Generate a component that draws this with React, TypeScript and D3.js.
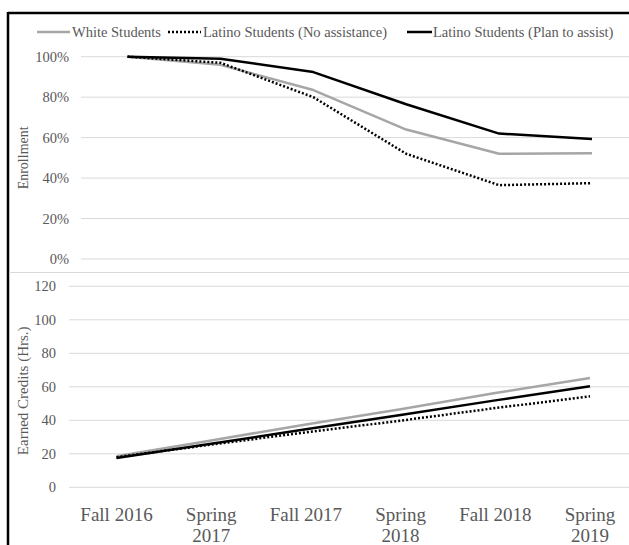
import React from "react";
import * as d3 from "d3";

// semesters on the x axis
const periods = ["Fall 2016", "Spring 2017", "Fall 2017", "Spring 2018", "Fall 2018", "Spring 2019"];
const seriesNames = ["White Students", "Latino Students (No assistance)", "Latino Students (Plan to assist)"];

// enrollment share (%)
const enrollWhite = [100, 96, 83.5, 64, 52, 52.3];
const enrollLatinoNo = [100, 97, 80, 52, 36.5, 37.5];
const enrollLatinoPlan = [100, 99, 92.4, 76.5, 62, 59.3];

// earned credit hours
const creditsWhite = [18.5, 28, 37.5, 46.6, 56.3, 65.3];
const creditsLatinoNo = [18, 25.5, 32.8, 39.8, 47.3, 54.3];
const creditsLatinoPlan = [17.5, 26, 34.6, 43.2, 51.9, 60.3];

const enrollTicks = [0, 20, 40, 60, 80, 100];
const creditTicks = [0, 20, 40, 60, 80, 100, 120];

const W = 629;
const H = 545;
const FONT = "'Liberation Serif', 'Times New Roman', serif";
const TXT = "#595959";
const GRID = "#d9d9d9";

const styles = [
  { color: "#a6a6a6", dash: undefined as string | undefined },
  { color: "#000", dash: "2,2" },
  { color: "#000", dash: undefined as string | undefined },
];

export default function App() {
  // top panel
  const xTop = d3.scalePoint<string>().domain(periods).range([127.5, 592]);
  const yTop = d3.scaleLinear().domain([0, 100]).range([259, 56.7]);
  // bottom panel
  const xBot = d3.scalePoint<string>().domain(periods).range([116.5, 590]);
  const yBot = d3.scaleLinear().domain([0, 120]).range([487.3, 286.3]);

  const topLine = d3.line<number>().x((_, i) => xTop(periods[i])!).y(d => yTop(d));
  const botLine = d3.line<number>().x((_, i) => xBot(periods[i])!).y(d => yBot(d));

  const enroll = [enrollWhite, enrollLatinoNo, enrollLatinoPlan];
  const credits = [creditsWhite, creditsLatinoNo, creditsLatinoPlan];

  // legend swatch/text positions
  const legendX = [37, 168, 407];
  const legendY = 32;

  return (
    <svg width={W} height={H} style={{ position: "absolute", left: 0, top: 0, background: "#fff", fontFamily: FONT }}>
      <rect x={0} y={0} width={W} height={H} fill="#fff" />

      {/* frame */}
      <line x1={8} x2={W} y1={13} y2={13} stroke="#000" strokeWidth={2.5} />
      <line x1={8} x2={8} y1={12} y2={H} stroke="#000" strokeWidth={2.5} />

      {/* legend */}
      {seriesNames.map((name, i) => (
        <g key={name}>
          <line x1={legendX[i]} x2={legendX[i] + (i === 2 ? 25 : 33)} y1={legendY} y2={legendY}
            stroke={styles[i].color} strokeWidth={2.5} strokeDasharray={styles[i].dash} />
          <text x={legendX[i] + (i === 2 ? 26 : 35)} y={legendY} dy="0.35em" fontSize={14.5} fill={TXT}>{name}</text>
        </g>
      ))}

      {/* enrollment grid */}
      {enrollTicks.map(t => (
        <g key={"e" + t}>
          <line x1={81} x2={W} y1={yTop(t)} y2={yTop(t)} stroke={GRID} strokeWidth={1} />
          <text x={69} y={yTop(t)} dy="0.35em" textAnchor="end" fontSize={14.5} fill={TXT}>{t}%</text>
        </g>
      ))}
      <text transform={`translate(23,${(yTop(0) + yTop(100)) / 2}) rotate(-90)`} textAnchor="middle" dy="0.35em" fontSize={14} fill={TXT}>Enrollment</text>

      {/* divider */}
      <line x1={9} x2={W} y1={272.5} y2={272.5} stroke={GRID} strokeWidth={1} />

      {/* credits grid */}
      {creditTicks.map(t => (
        <g key={"c" + t}>
          <line x1={69} x2={W} y1={yBot(t)} y2={yBot(t)} stroke={GRID} strokeWidth={1} />
          <text x={56} y={yBot(t)} dy="0.35em" textAnchor="end" fontSize={14.5} fill={TXT}>{t}</text>
        </g>
      ))}
      <text transform={`translate(23,${(yBot(0) + yBot(120)) / 2 + 4}) rotate(-90)`} textAnchor="middle" dy="0.35em" fontSize={15} fill={TXT}>Earned Credits (Hrs.)</text>

      {/* lines */}
      {enroll.map((s, i) => (
        <path key={"el" + i} d={topLine(s)!} fill="none" stroke={styles[i].color} strokeWidth={2.5}
          strokeDasharray={styles[i].dash} strokeLinejoin="round" />
      ))}
      {credits.map((s, i) => (
        <path key={"cl" + i} d={botLine(s)!} fill="none" stroke={styles[i].color} strokeWidth={2.5}
          strokeDasharray={styles[i].dash} strokeLinejoin="round" />
      ))}

      {/* x labels */}
      {periods.map(p => {
        const parts = p.startsWith("Spring") ? p.split(" ") : [p];
        return (
          <text key={p} y={514} textAnchor="middle" fontSize={19} fill={TXT}>
            {parts.map((s, j) => (
              <tspan key={j} x={xBot(p)} dy={j === 0 ? "0.35em" : 21}>{s}</tspan>
            ))}
          </text>
        );
      })}
    </svg>
  );
}
